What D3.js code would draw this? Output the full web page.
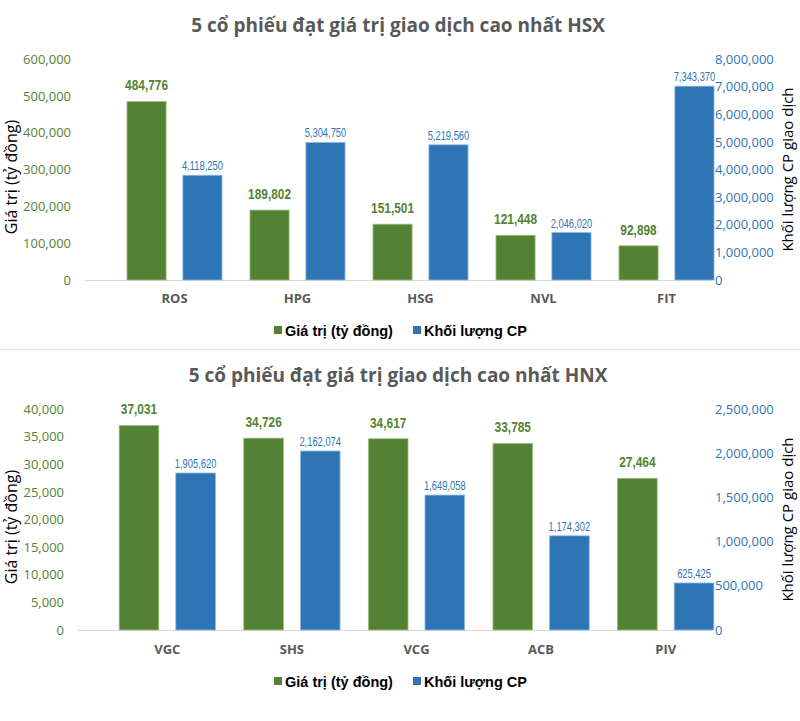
<!DOCTYPE html>
<html>
<head>
<meta charset="utf-8">
<script src="https://cdn.jsdelivr.net/npm/d3@7"></script>
<style>
  html, body { margin: 0; padding: 0; background: #fff; }
  svg { display: block; }
</style>
</head>
<body>
<svg id="chart" width="800" height="721"></svg>
<script>
// ---------------- DATA ----------------
const hsxTitle = "5 cổ phiếu đạt giá trị giao dịch cao nhất HSX";
const hsxCategories = ["ROS", "HPG", "HSG", "NVL", "FIT"];
const hsxValue = [484776, 189802, 151501, 121448, 92898];          // Giá trị (tỷ đồng)
const hsxVolume = [4118250, 5304750, 5219560, 2046020, 7343370];   // Khối lượng CP
const hsxValueTicks = [0, 100000, 200000, 300000, 400000, 500000, 600000];
const hsxVolumeTicks = [0, 1000000, 2000000, 3000000, 4000000, 5000000, 6000000, 7000000, 8000000];
// In the published chart the volume bars do not start at the axis 0; this is the bar scale
const hsxVolumeBarDomain = [327000, 8327000];

const hnxTitle = "5 cổ phiếu đạt giá trị giao dịch cao nhất HNX";
const hnxCategories = ["VGC", "SHS", "VCG", "ACB", "PIV"];
const hnxValue = [37031, 34726, 34617, 33785, 27464];
const hnxVolume = [1905620, 2162074, 1649058, 1174302, 625425];
const hnxValueTicks = [0, 5000, 10000, 15000, 20000, 25000, 30000, 35000, 40000];
const hnxVolumeTicks = [0, 500000, 1000000, 1500000, 2000000, 2500000];
const hnxVolumeBarDomain = [78000, 2651000];

const seriesNames = ["Giá trị (tỷ đồng)", "Khối lượng CP"];
const leftAxisTitle = "Giá trị (tỷ đồng)";
const rightAxisTitle = "Khối lượng CP giao dịch";

// ---------------- STYLE ----------------
const GREEN = "#548235";
const BLUE = "#2E75B6";
const GRAY = "#595959";
const fmt = d3.format(",");

const svg = d3.select("#chart");

function drawChart(cfg) {
  const g = svg.append("g");

  // title
  g.append("text")
    .attr("x", 398).attr("y", cfg.titleY)
    .attr("text-anchor", "middle")
    .attr("font-family", "'Open Sans', sans-serif")
    .attr("font-weight", 700).attr("font-size", 19)
    .attr("fill", GRAY)
    .text(cfg.title);

  const x0 = d3.scaleBand().domain(cfg.categories).range(cfg.xRange).padding(0);
  const x1 = d3.scaleBand().domain(["value", "volume"]).range([0, x0.bandwidth()])
    .paddingInner(0.3).paddingOuter(0.25);

  const yL = d3.scaleLinear().domain([0, d3.max(cfg.valueTicks)]).range([cfg.yBase, cfg.yTop]);
  const yRAxis = d3.scaleLinear().domain([0, d3.max(cfg.volumeTicks)]).range([cfg.yBase, cfg.yTop]);
  const yRBar = d3.scaleLinear().domain(cfg.volumeBarDomain).range([cfg.yBase, cfg.yTop]);

  // left axis
  const axL = d3.axisLeft(yL).tickValues(cfg.valueTicks).tickFormat(fmt).tickSize(0).tickPadding(0);
  const gL = g.append("g").attr("transform", `translate(${cfg.leftTickX},0)`).call(axL);
  gL.select(".domain").remove();
  gL.selectAll("text").attr("fill", GREEN).attr("font-size", 13)
    .attr("font-family", "'Open Sans', sans-serif");

  // right axis
  const axR = d3.axisRight(yRAxis).tickValues(cfg.volumeTicks).tickFormat(fmt).tickSize(0).tickPadding(0);
  const gR = g.append("g").attr("transform", `translate(${cfg.rightTickX},0)`).call(axR);
  gR.select(".domain").remove();
  gR.selectAll("text").attr("fill", BLUE).attr("font-size", 13)
    .attr("font-family", "'Open Sans', sans-serif");

  // baseline
  g.append("line")
    .attr("x1", cfg.baseX[0]).attr("x2", cfg.baseX[1])
    .attr("y1", cfg.yBase + 0.5).attr("y2", cfg.yBase + 0.5)
    .attr("stroke", "#d9d9d9").attr("stroke-width", 1);

  const rows = cfg.categories.map((c, i) => ({ cat: c, value: cfg.value[i], volume: cfg.volume[i] }));

  // value bars
  g.selectAll(".bv").data(rows).join("rect")
    .attr("x", d => x0(d.cat) + x1("value"))
    .attr("width", x1.bandwidth())
    .attr("y", d => yL(d.value))
    .attr("height", d => cfg.yBase - yL(d.value))
    .attr("fill", GREEN).attr("stroke", "#9cc27f").attr("stroke-width", 0.8);

  // volume bars
  g.selectAll(".bq").data(rows).join("rect")
    .attr("x", d => x0(d.cat) + x1("volume"))
    .attr("width", x1.bandwidth())
    .attr("y", d => yRBar(d.volume))
    .attr("height", d => cfg.yBase - yRBar(d.volume))
    .attr("fill", BLUE).attr("stroke", "#8db8e3").attr("stroke-width", 0.8);

  // value labels (condensed look, like Arial Narrow)
  g.selectAll(".lv").data(rows).join("text")
    .attr("transform", d => `translate(${x0(d.cat) + x1("value") + x1.bandwidth() / 2},${yL(d.value) - 11}) scale(0.82,1)`)
    .attr("text-anchor", "middle")
    .attr("font-family", "'Liberation Sans', Arial, sans-serif")
    .attr("font-weight", 700).attr("font-size", 14.5)
    .attr("fill", GREEN)
    .text(d => fmt(d.value));

  // volume labels
  g.selectAll(".lq").data(rows).join("text")
    .attr("transform", d => `translate(${x0(d.cat) + x1("volume") + x1.bandwidth() / 2},${yRBar(d.volume) - 5}) scale(0.78,1)`)
    .attr("text-anchor", "middle")
    .attr("font-family", "'Liberation Sans', Arial, sans-serif")
    .attr("font-size", 12)
    .attr("fill", BLUE)
    .text(d => fmt(d.volume));

  // category labels
  g.selectAll(".cl").data(rows).join("text")
    .attr("x", d => x0(d.cat) + x0.bandwidth() / 2)
    .attr("y", cfg.catY)
    .attr("text-anchor", "middle")
    .attr("font-family", "'Open Sans', sans-serif")
    .attr("font-weight", 700).attr("font-size", 13)
    .attr("fill", GRAY)
    .text(d => d.cat);

  // axis titles
  const midY = (cfg.yBase + cfg.yTop) / 2;
  g.append("text")
    .attr("transform", `translate(${cfg.leftTitleX},${cfg.leftTitleY}) rotate(-90)`)
    .attr("text-anchor", "middle")
    .attr("font-family", "'Open Sans', sans-serif").attr("font-size", 16)
    .attr("fill", "#000")
    .text(leftAxisTitle);
  g.append("text")
    .attr("transform", `translate(${cfg.rightTitleX},${midY}) rotate(-90)`)
    .attr("text-anchor", "middle")
    .attr("font-family", "'Open Sans', sans-serif").attr("font-size", 15)
    .attr("fill", "#000")
    .text(rightAxisTitle);

  // legend
  const legX = [274, 413];
  const colors = [GREEN, BLUE];
  seriesNames.forEach((name, i) => {
    g.append("rect")
      .attr("x", legX[i]).attr("y", cfg.legendY - 10)
      .attr("width", 8).attr("height", 8)
      .attr("fill", colors[i]);
    g.append("text")
      .attr("x", legX[i] + 11).attr("y", cfg.legendY)
      .attr("font-family", "'Liberation Sans', Arial, sans-serif")
      .attr("font-weight", 700).attr("font-size", 14.5)
      .attr("fill", "#000")
      .text(name);
  });
}

drawChart({
  title: hsxTitle, titleY: 32,
  categories: hsxCategories, value: hsxValue, volume: hsxVolume,
  valueTicks: hsxValueTicks, volumeTicks: hsxVolumeTicks, volumeBarDomain: hsxVolumeBarDomain,
  xRange: [113, 728], yBase: 280, yTop: 59,
  leftTickX: 71, rightTickX: 715, baseX: [85, 712],
  catY: 303, legendY: 336,
  leftTitleX: 17, leftTitleY: 177, rightTitleX: 793
});

drawChart({
  title: hnxTitle, titleY: 382,
  categories: hnxCategories, value: hnxValue, volume: hnxVolume,
  valueTicks: hnxValueTicks, volumeTicks: hnxVolumeTicks, volumeBarDomain: hnxVolumeBarDomain,
  xRange: [105, 728], yBase: 630, yTop: 409,
  leftTickX: 64, rightTickX: 715, baseX: [77, 712],
  catY: 654, legendY: 687,
  leftTitleX: 17, leftTitleY: 527, rightTitleX: 793
});

// separator
svg.append("line")
  .attr("x1", 0).attr("x2", 800).attr("y1", 349.5).attr("y2", 349.5)
  .attr("stroke", "#e3e3e3").attr("stroke-width", 1.5);
</script>
</body>
</html>
